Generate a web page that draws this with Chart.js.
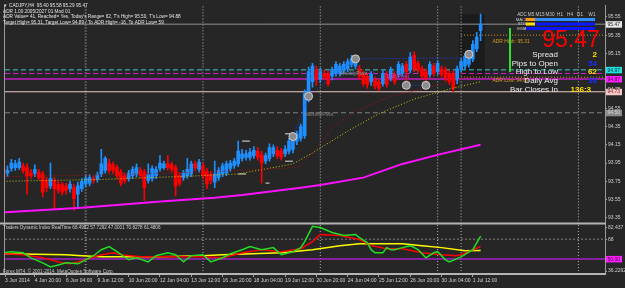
<!DOCTYPE html>
<html>
<head>
<meta charset="utf-8">
<script src="https://cdn.jsdelivr.net/npm/chart.js@4.4.1/dist/chart.umd.min.js"></script>
<style>
  html, body { margin: 0; padding: 0; background: #262626; }
  #wrap { width: 625px; height: 288px; }
</style>
</head>
<body>
<div id="wrap"><canvas id="chart" width="625" height="288"></canvas></div>
<script>
// =================== Data ===================

// x axis: bar numbers (H4 bars, 0 = 3 Jun 16:00) and their labels
const xTickBars = [0.4, 8, 16, 24, 32, 40, 48, 56, 64, 72, 80, 88, 96, 104, 112, 120];
const xTickLabels = ['3 Jun 2014', '4 Jun 20:00', '6 Jun 04:00', '9 Jun 12:00', '10 Jun 20:00',
  '12 Jun 04:00', '13 Jun 12:00', '16 Jun 20:00', '18 Jun 04:00', '19 Jun 12:00', '20 Jun 20:00',
  '24 Jun 04:00', '25 Jun 12:00', '26 Jun 20:00', '30 Jun 04:00', '1 Jul 12:00'];

// price axis ticks
const priceTicks = [95.55, 95.35, 95.15, 94.95, 94.75, 94.55, 94.35, 94.15, 93.95, 93.75, 93.55, 93.35];

// candles
const opens = [93.90, 93.84, 93.89, 93.90, 93.90, 93.92, 93.90, 93.84, 93.84, 93.85,
  93.83, 93.76, 93.70, 93.76, 93.72, 93.71, 93.70, 93.67, 93.68, 93.61,
  93.67, 93.72, 93.73, 93.78, 93.77, 93.83, 93.87, 93.95, 93.93, 93.90,
  93.85, 93.81, 93.78, 93.81, 93.83, 93.87, 93.85, 93.76, 93.78, 93.81,
  93.89, 93.90, 93.94, 93.93, 93.90, 93.81, 93.79, 93.81, 93.83, 93.94,
  93.88, 93.92, 93.86, 93.83, 93.74, 93.79, 93.83, 93.84, 93.89, 93.92,
  93.94, 94.00, 94.01, 94.01, 94.03, 94.08, 94.04, 93.97, 94.00, 94.05,
  94.09, 94.08, 94.05, 94.08, 94.10, 94.19, 94.22, 94.25, 94.68, 94.84,
  94.97, 94.87, 94.93, 94.93, 94.90, 94.93, 94.93, 94.97, 94.98, 95.03,
  95.01, 94.98, 94.93, 94.90, 94.84, 94.86, 94.84, 94.82, 94.92, 94.88,
  94.92, 94.92, 94.93, 95.03, 94.97, 95.13, 95.04, 94.98, 94.95, 94.92,
  95.01, 94.95, 94.98, 94.97, 94.93, 94.93, 94.86, 94.98, 95.01, 95.03,
  95.09, 95.20, 95.40];
const highs = [93.95, 93.92, 93.99, 93.98, 94.00, 93.95, 93.94, 93.88, 93.93, 93.88,
  93.86, 93.79, 93.95, 93.79, 93.75, 93.74, 93.73, 93.75, 93.72, 93.74,
  93.78, 93.82, 93.82, 93.81, 93.85, 94.10, 94.02, 93.99, 93.96, 93.93,
  93.88, 93.84, 93.87, 93.91, 93.94, 93.90, 93.88, 93.94, 93.92, 93.91,
  94.03, 93.97, 94.03, 93.96, 93.93, 93.84, 93.87, 94.00, 93.97, 93.97,
  93.99, 93.95, 93.89, 93.86, 93.97, 93.90, 93.95, 93.97, 93.98, 94.00,
  94.19, 94.10, 94.09, 94.11, 94.13, 94.12, 94.08, 94.06, 94.16, 94.15,
  94.13, 94.11, 94.14, 94.22, 94.25, 94.30, 94.38, 94.75, 95.00, 95.04,
  95.01, 94.99, 94.97, 94.96, 95.00, 95.06, 95.04, 95.06, 95.09, 95.13,
  95.12, 95.02, 94.96, 94.93, 94.95, 94.89, 94.87, 94.96, 94.95, 95.00,
  94.95, 95.06, 95.04, 95.06, 95.16, 95.17, 95.07, 95.01, 94.98, 95.06,
  95.04, 95.07, 95.01, 95.00, 94.96, 94.96, 95.01, 95.09, 95.15, 95.18,
  95.29, 95.38, 95.58];
const lows = [93.75, 93.80, 93.86, 93.87, 93.88, 93.84, 93.61, 93.78, 93.80, 93.77,
  93.58, 93.64, 93.67, 93.45, 93.62, 93.60, 93.61, 93.63, 93.43, 93.46,
  93.64, 93.69, 93.70, 93.73, 93.74, 93.80, 93.84, 93.84, 93.84, 93.78,
  93.70, 93.73, 93.75, 93.78, 93.80, 93.78, 93.54, 93.73, 93.75, 93.78,
  93.86, 93.88, 93.87, 93.85, 93.59, 93.70, 93.76, 93.78, 93.80, 93.87,
  93.85, 93.78, 93.67, 93.72, 93.68, 93.76, 93.80, 93.81, 93.86, 93.89,
  93.91, 93.97, 93.98, 93.98, 94.00, 93.98, 93.73, 93.94, 93.97, 94.02,
  94.00, 93.98, 94.02, 94.05, 94.06, 94.15, 94.19, 94.22, 94.62, 94.78,
  94.80, 94.83, 94.86, 94.79, 94.86, 94.90, 94.90, 94.94, 94.95, 95.00,
  94.98, 94.86, 94.79, 94.77, 94.80, 94.76, 94.74, 94.79, 94.78, 94.85,
  94.81, 94.89, 94.90, 94.82, 94.94, 94.95, 94.94, 94.87, 94.81, 94.89,
  94.90, 94.92, 94.89, 94.85, 94.81, 94.73, 94.82, 94.95, 94.98, 95.00,
  95.06, 95.17, 95.29];
const closes = [93.79, 93.87, 93.95, 93.94, 93.96, 93.87, 93.81, 93.81, 93.88, 93.79,
  93.63, 93.68, 93.78, 93.67, 93.65, 93.63, 93.65, 93.72, 93.56, 93.70,
  93.75, 93.78, 93.79, 93.76, 93.82, 93.94, 94.00, 93.87, 93.87, 93.81,
  93.73, 93.76, 93.84, 93.88, 93.90, 93.81, 93.68, 93.82, 93.89, 93.88,
  93.95, 93.94, 93.90, 93.88, 93.70, 93.73, 93.84, 93.88, 93.94, 93.90,
  93.96, 93.81, 93.72, 93.76, 93.83, 93.87, 93.92, 93.94, 93.95, 93.97,
  94.08, 94.05, 94.05, 94.07, 94.09, 94.01, 93.95, 94.03, 94.12, 94.12,
  94.03, 94.01, 94.10, 94.19, 94.21, 94.27, 94.35, 94.71, 94.95, 95.01,
  94.87, 94.95, 94.89, 94.82, 94.97, 95.03, 95.01, 95.03, 95.06, 95.09,
  95.08, 94.90, 94.82, 94.81, 94.92, 94.79, 94.77, 94.93, 94.81, 94.97,
  94.84, 95.03, 95.01, 94.95, 95.11, 94.98, 94.97, 94.90, 94.88, 95.03,
  94.93, 95.04, 94.92, 94.88, 94.84, 94.77, 94.98, 95.06, 95.12, 95.15,
  95.25, 95.33, 95.47];

// moving averages (bar, value)
const maRedBars = [0, 25, 50, 66, 74, 76, 80, 84, 90, 99, 108, 114, 122];
const maRed = [93.80, 93.82, 93.85, 93.88, 93.90, 93.92, 94.11, 94.33, 94.52, 94.68, 94.77, 94.84, 94.93];
const maYellowBars = [0, 25, 50, 60, 74, 79, 88, 96, 105, 114, 122];
const maYellow = [93.75, 93.77, 93.81, 93.83, 93.94, 94.06, 94.30, 94.49, 94.65, 94.76, 94.84];
const maMagentaBars = [0, 20, 41, 54, 61, 76, 81, 92, 102, 112, 122];
const maMagenta = [93.41, 93.46, 93.53, 93.57, 93.60, 93.68, 93.71, 93.79, 93.94, 94.05, 94.15];

// horizontal levels: weekly pivot, daily pivot, pivot line, pink line, monthly pivot, bid
const levelValues = [94.97, 94.93, 94.87, 94.73, 94.50, 95.47];
// ADR high / low lines (only over today's bars)
const adrValues = [95.35, 94.89];
const adrFromBar = 117;

// period separators (bar)
const separatorBars = [21, 51, 81, 111, 117, 147];

// swing markers and their zigzag
const markerBars = [74, 78, 90, 103, 108, 119];
const markerPrices = [94.24, 94.68, 95.09, 94.80, 94.80, 95.14];
const zigBars = [74, 78, 90, 119, null, 103, 108];
const zigPrices = [94.24, 94.68, 95.09, 95.10, null, 94.80, 94.80];

// small white marks
const markStart = [60, 61, 67, 72, 72];
const markEnd = [62, 63, 68, 74, 74];
const markPrice = [93.83, 94.19, 93.73, 94.27, 93.97];

// today's range box: first bar, last bar, high, low
const todayBox = [116.5, 123, 95.58, 94.88];

// Traders Dynamic Index
const tdiMin = 36.2262, tdiMax = 82.437;
const tdiGreenBars = [0, 2, 5, 7, 10, 12, 14, 16, 19, 20, 23, 25, 27, 29, 32, 34, 37, 39, 42, 44,
  46, 48, 51, 53, 56, 58, 61, 63, 66, 69, 71, 74, 76, 77, 79, 81, 84, 87, 90, 91,
  93, 94, 95, 97, 98, 99, 100, 102, 104, 106, 108, 110, 111, 113, 114, 117, 120, 122];
const tdiGreen = [55.6, 56.6, 55.6, 51.0, 46.4, 42.7, 44.5, 46.4, 45.5, 47.3, 52.9, 58.4, 61.2, 56.6, 49.2, 51.0, 47.3, 52.9, 55.6, 53.8,
  47.3, 52.9, 53.8, 47.3, 51.0, 54.7, 58.4, 61.2, 58.4, 60.3, 53.8, 56.6, 60.3, 65.8, 79.7, 78.7, 74.1, 71.3, 72.3, 69.5,
  64.9, 58.4, 55.6, 55.6, 60.3, 58.4, 58.4, 60.3, 62.1, 58.4, 51.0, 55.6, 56.6, 49.2, 47.3, 51.9, 58.4, 70.8];
const tdiRedBars = [0, 5, 10, 15, 17, 20, 24, 28, 30, 35, 41, 46, 51, 56, 61, 66, 71, 76, 79, 81,
  86, 91, 94, 98, 102, 107, 112, 116, 119, 122];
const tdiRed = [54.7, 53.8, 51.0, 46.4, 45.5, 48.2, 52.9, 55.6, 53.8, 51.9, 51.9, 51.9, 51.9, 51.0, 55.6, 58.4, 56.6, 59.3, 65.8, 72.3,
  71.3, 67.7, 62.1, 59.3, 59.3, 55.6, 53.8, 52.9, 56.6, 61.5];
const tdiYellowBars = [0, 16, 20, 25, 40, 51, 56, 71, 79, 86, 91, 102, 107, 112, 118, 122];
const tdiYellow = [54.7, 53.8, 52.9, 51.9, 51.9, 52.9, 53.8, 55.6, 58.4, 62.1, 63.9, 63.9, 62.1, 60.3, 57.5, 57.7];
const tdiLevels = [68, 50];

// texts
const headerLines = [
  'CADJPY,H4  95.40 95.58 95.29 95.47',
  'ADR 1.00 2005/2027 01 Mod 01',
  "ADR Value= 41, Reached= Yes, Today's Range= 62, T's High= 95.50, T's Low= 94.88",
  'Target High= 95.31, Target Low= 94.89 / To ADR High= -16, To ADR Low= 59'
];
const tfNames = ['ADC', 'M5', 'M15', 'M30', 'H1', 'H4', 'D1', 'W1'];
const statNames = ['Spread', 'Pips to Open', 'High to Low', 'Daily Avg', 'Bar Closes In'];
const statValues = ['2', '54', '62', '38', '136:3'];
const tdiTitle = 'Traders Dynamic Index RealTime 68.4982 57.7292 47.0001 70.8278 61.4806';

// =================== Helpers ===================

const FONT = "'Liberation Sans', Arial, sans-serif";
const BULL = '#1e8fff';
const BEAR = '#ff0000';
const X_MIN = 0.37, X_MAX = 153.8;

function pts(xs, ys) {
  return xs.map((x, i) => ({ x: x, y: ys[i] }));
}

function lineSet(data, color, width, dash, axis, order) {
  return {
    type: 'line', data: data, borderColor: color, borderWidth: width, borderDash: dash || [],
    pointRadius: 0, fill: false, tension: 0, yAxisID: axis || 'y', order: order || 5, spanGaps: false
  };
}

function txt(ctx, s, x, y, color, size, align, bold) {
  ctx.font = (bold ? 'bold ' : '') + size + 'px ' + FONT;
  ctx.fillStyle = color;
  ctx.textAlign = align || 'left';
  ctx.textBaseline = 'middle';
  ctx.fillText(s, x, y);
}

// =================== Datasets ===================

const candleColor = (ctx) => closes[ctx.dataIndex] >= opens[ctx.dataIndex] ? BULL : BEAR;

const levelStyles = [
  { color: '#3cc8c8', width: 1, dash: [5, 3] },
  { color: '#d020d0', width: 1, dash: [5, 3] },
  { color: '#9a1f9a', width: 2, dash: [] },
  { color: '#f0c8c8', width: 1, dash: [] },
  { color: '#808080', width: 1, dash: [5, 3] },
  { color: '#909090', width: 1, dash: [] }
];

const datasets = [];

levelValues.forEach((v, i) => {
  const st = levelStyles[i];
  datasets.push(lineSet([{ x: X_MIN, y: v }, { x: X_MAX, y: v }], st.color, st.width, st.dash, 'y', 9));
});
adrValues.forEach((v) => {
  datasets.push(lineSet([{ x: adrFromBar, y: v }, { x: X_MAX, y: v }], '#d89a20', 1, [1, 2], 'y', 9));
});

// separators drawn as vertical two-point lines on both panes
separatorBars.forEach((b, i) => {
  const c = i === 0 ? '#8a8a8a' : '#b8b8b8', w = i === 0 ? 2 : 1;
  datasets.push(lineSet([{ x: b, y: 93.289 }, { x: b, y: 95.68 }], c, w, [1, 2], 'y', 10));
  datasets.push(lineSet([{ x: b, y: tdiMin }, { x: b, y: tdiMax }], c, w, [1, 2], 'y2', 10));
});

// candles
datasets.push({
  type: 'bar', data: opens.map((o, i) => ({ x: i, y: [lows[i], highs[i]] })),
  backgroundColor: candleColor, barThickness: 1, grouped: false, borderWidth: 0,
  minBarLength: 1, yAxisID: 'y', order: 4
});
datasets.push({
  type: 'bar', data: opens.map((o, i) => ({ x: i, y: [o, closes[i]] })),
  backgroundColor: candleColor, barThickness: 3, grouped: false, borderWidth: 0,
  minBarLength: 1, yAxisID: 'y', order: 3
});

// moving averages
datasets.push(lineSet(pts(maRedBars, maRed), '#b01010', 1, [1, 2], 'y', 2));
datasets.push(lineSet(pts(maYellowBars, maYellow), '#c8c810', 1, [1, 2], 'y', 2));
datasets.push(lineSet(pts(maMagentaBars, maMagenta), '#ff10ff', 2, [], 'y', 2));

// white marks
const markData = [];
markStart.forEach((s, i) => {
  markData.push({ x: s, y: markPrice[i] }, { x: markEnd[i], y: markPrice[i] }, { x: markEnd[i], y: null });
});
datasets.push(lineSet(markData, '#e8e2d2', 1, [], 'y', 2));

// zigzag + markers
datasets.push(lineSet(zigBars.map((b, i) => ({ x: b, y: zigPrices[i] })), '#2040ff', 1, [1, 2], 'y', 1));
datasets.push({
  type: 'scatter', data: pts(markerBars, markerPrices), yAxisID: 'y', order: 0,
  pointRadius: 4, pointBackgroundColor: '#8c8c8c', pointBorderColor: '#cfcfcf', pointBorderWidth: 1
});
datasets.push({
  type: 'scatter', data: pts(markerBars, markerPrices), yAxisID: 'y', order: 0,
  pointRadius: 1.5, pointBorderWidth: 0,
  pointBackgroundColor: ['#2050ff', '#ff9a00', '#2050ff', '#e03030', '#ff9a00', '#ff9a00']
});

// TDI
tdiLevels.forEach((v, i) => {
  datasets.push(lineSet([{ x: X_MIN, y: v }, { x: X_MAX, y: v }], i === 0 ? '#808080' : '#a020c8',
    i === 0 ? 1 : 1.5, i === 0 ? [2, 2] : [], 'y2', 8));
});
datasets.push(lineSet(pts(tdiYellowBars, tdiYellow), '#ffff00', 1.5, [], 'y2', 3));
datasets.push(lineSet(pts(tdiRedBars, tdiRed), '#ff0000', 1.5, [], 'y2', 2));
datasets.push(lineSet(pts(tdiGreenBars, tdiGreen), '#22dd22', 1.5, [], 'y2', 1));

// =================== Plugins ===================

const chrome = {
  id: 'chrome',
  beforeDraw(chart) {
    const ctx = chart.ctx;
    ctx.save();
    ctx.fillStyle = '#262626';
    ctx.fillRect(0, 0, chart.width, chart.height);
    const x = chart.scales.x, y = chart.scales.y;
    ctx.fillStyle = '#1b1b1b';
    const x0 = x.getPixelForValue(todayBox[0]), x1 = x.getPixelForValue(todayBox[1]);
    const y0 = y.getPixelForValue(todayBox[2]), y1 = y.getPixelForValue(todayBox[3]);
    ctx.fillRect(x0, y0, x1 - x0, y1 - y0);
    ctx.restore();
  },
  afterDatasetsDraw(chart) {
    const ctx = chart.ctx;
    const a = chart.chartArea;
    const y = chart.scales.y, y2 = chart.scales.y2;
    ctx.save();
    ctx.strokeStyle = '#9a9a9a';
    ctx.lineWidth = 1;
    ctx.beginPath();
    ctx.moveTo(a.left - 0.5, a.top); ctx.lineTo(a.left - 0.5, a.bottom);
    ctx.moveTo(a.right + 0.5, a.top); ctx.lineTo(a.right + 0.5, a.bottom + 1);
    ctx.stroke();
    ctx.strokeStyle = '#b4b4b4';
    ctx.lineWidth = 2;
    ctx.beginPath();
    ctx.moveTo(0, y.bottom); ctx.lineTo(a.right + 1, y.bottom);
    ctx.moveTo(0, y2.bottom); ctx.lineTo(a.right + 1, y2.bottom);
    ctx.stroke();
    ctx.restore();
  },
  afterDraw(chart) {
    const ctx = chart.ctx;
    const y = chart.scales.y, y2 = chart.scales.y2, x = chart.scales.x;
    ctx.save();

    // header
    txt(ctx, '\u25BC', 3, 6, '#d8d8d8', 4.5);
    headerLines.forEach((s, i) => txt(ctx, s, i === 0 ? 9 : 3, 6 + i * 5.6, '#e4e4e4', 4.7));

    // pivot labels
    txt(ctx, 'WeeklyPivot', x.getPixelForValue(86), y.getPixelForValue(94.93), '#6fa8a0', 5);
    txt(ctx, 'DailyPivot', x.getPixelForValue(98), y.getPixelForValue(94.90), '#c040c0', 5);
    txt(ctx, 'MonthlyPivot', x.getPixelForValue(77), y.getPixelForValue(94.48), '#8c8c8c', 5);
    txt(ctx, 'ADR High: 95.31', x.getPixelForValue(125), y.getPixelForValue(95.28), '#d89a20', 5);
    txt(ctx, 'ADR Low: 94.89', x.getPixelForValue(125), y.getPixelForValue(94.85), '#d89a20', 5);

    // right info panel
    const tfX = [522, 531, 540, 550, 560, 570, 580, 592];
    tfNames.forEach((s, i) => txt(ctx, s, tfX[i], 15, '#c8c8c8', 4.6, 'center'));
    txt(ctx, 'MACD', 522, 19.5, '#c8c8c8', 4.3, 'center');
    txt(ctx, 'STR', 522, 24, '#c8c8c8', 4.3, 'center');
    txt(ctx, 'EMA', 522, 28.5, '#c8c8c8', 4.3, 'center');
    ctx.fillStyle = '#ff9a10'; ctx.fillRect(526, 18, 9, 3);
    ctx.fillStyle = '#3090ff'; ctx.fillRect(535, 18, 60, 3);
    ctx.fillStyle = '#ffe000'; ctx.fillRect(526, 22.5, 9, 3);
    ctx.fillStyle = '#0a18ff'; ctx.fillRect(535, 22.5, 60, 3);
    ctx.fillStyle = '#0a18ff'; ctx.fillRect(526, 27, 69, 3);
    ctx.fillStyle = '#30e030'; ctx.fillRect(509, 28, 2, 44);
    txt(ctx, '95.47', 571, 41, '#ff0000', 23, 'center');
    const statY = [55, 63.5, 72, 80.5, 90];
    const valColors = ['#ffe000', '#1a2cff', '#ffe000', '#1a2cff', '#ffe000'];
    statNames.forEach((s, i) => txt(ctx, s, 558, statY[i], '#ececec', 8, 'right'));
    statValues.forEach((s, i) => txt(ctx, s, i === 4 ? 591 : 597, statY[i], valColors[i], 8, 'right', true));

    // axis price boxes
    const boxValues = [95.47, 94.97, 94.87, 94.73, 94.50];
    const boxBg = ['#e8e8e8', '#20e0e0', '#ff20ff', '#f4c8c8', '#8a8a8a'];
    const boxFg = ['#202020', '#103030', '#400040', '#802020', '#d8d8d8'];
    boxValues.forEach((v, i) => {
      const py = y.getPixelForValue(v);
      ctx.fillStyle = boxBg[i];
      ctx.fillRect(606, py - 3, 16, 6.5);
      txt(ctx, v.toFixed(2), 607.5, py + 0.3, boxFg[i], 5);
    });
    const p50 = y2.getPixelForValue(50);
    ctx.fillStyle = '#ff20ff';
    ctx.fillRect(606, p50 - 3, 16, 6.5);
    txt(ctx, '50.00', 607.5, p50 + 0.3, '#400040', 5);

    // TDI texts
    txt(ctx, tdiTitle, 3, y2.top + 4, '#d0d0d0', 4.6);
    txt(ctx, 'Forex MT4, \u00A9 2001-2014, MetaQuotes Software Corp.', 3, y2.bottom - 2.5, '#c8c8c8', 4.6);
    ctx.restore();
  }
};

// =================== Chart ===================

const tickFont = { family: FONT, size: 5 };

new Chart(document.getElementById('chart'), {
  type: 'bar',
  data: { datasets: datasets },
  options: {
    responsive: false,
    animation: false,
    events: [],
    layout: { padding: { left: 2, top: 3, right: 0, bottom: 0 } },
    plugins: { legend: { display: false }, tooltip: { enabled: false } },
    scales: {
      x: {
        type: 'linear', position: 'bottom', min: X_MIN, max: X_MAX, offset: false,
        afterBuildTicks: (s) => { s.ticks = xTickBars.map(v => ({ value: v })); },
        afterFit: (s) => { s.height = 14; },
        ticks: {
          autoSkip: false, maxRotation: 0, minRotation: 0, align: 'start', padding: 1,
          color: '#d4d4d4', font: { family: FONT, size: 5 },
          callback: (v, i) => xTickLabels[i]
        },
        grid: { offset: false, drawOnChartArea: false, drawTicks: true, tickLength: 3, color: '#a0a0a0' },
        border: { display: false }
      },
      y: {
        type: 'linear', position: 'right', stack: 'panes', stackWeight: 220,
        min: 93.289, max: 95.68,
        afterBuildTicks: (s) => { s.ticks = priceTicks.map(v => ({ value: v })); },
        afterFit: (s) => { s.width = 20; },
        ticks: { color: '#d0d0d0', font: tickFont, padding: 1, callback: (v) => v.toFixed(2) },
        grid: { drawOnChartArea: false, drawTicks: true, tickLength: 2, color: '#a0a0a0' },
        border: { display: false }
      },
      y2: {
        type: 'linear', position: 'right', stack: 'panes', stackWeight: 51,
        min: tdiMin, max: tdiMax,
        afterBuildTicks: (s) => {
          const step = (tdiMax - tdiMin) / 51;
          s.ticks = [{ value: tdiMax - 4 * step }, { value: 68 }, { value: tdiMin + 3 * step }];
        },
        afterFit: (s) => { s.width = 20; },
        ticks: {
          color: '#d0d0d0', font: tickFont, padding: 1,
          callback: (v, i) => ['82.437', '68', '36.2262'][i]
        },
        grid: { drawOnChartArea: false, drawTicks: true, tickLength: 2, color: '#a0a0a0' },
        border: { display: false }
      }
    }
  },
  plugins: [chrome]
});
</script>
</body>
</html>
